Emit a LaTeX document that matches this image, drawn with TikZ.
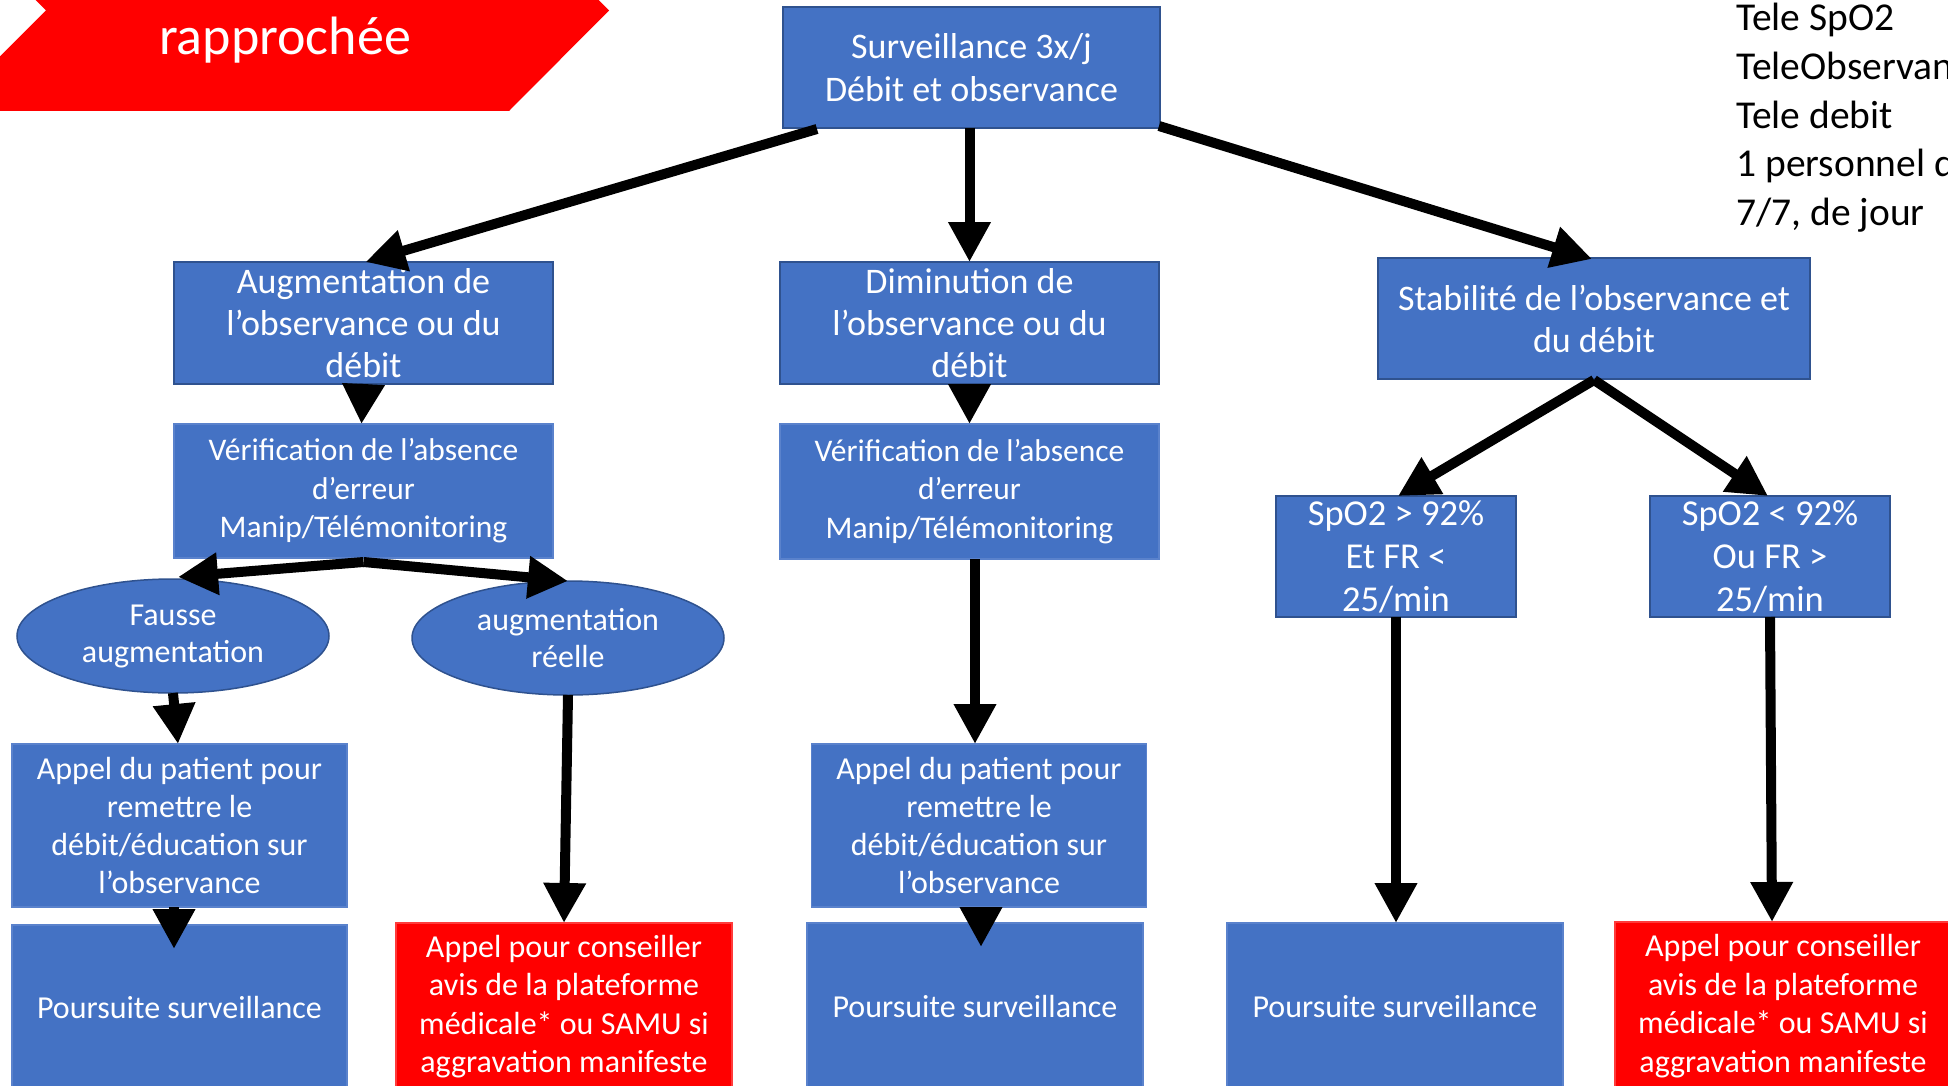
\documentclass[tikz,border=0pt]{standalone}
\usepackage{fontspec}
\setmainfont{Carlito}
\usetikzlibrary{arrows.meta,calc,shapes.geometric}
\definecolor{obl}{HTML}{4472C4}
\definecolor{obd}{HTML}{2F528F}
\definecolor{obm}{HTML}{5A82CC}
\definecolor{obr}{HTML}{FF0000}
\definecolor{obrb}{HTML}{FF3B3B}
\tikzset{
  bbox/.style={rectangle, fill=obl, draw=obd, line width=0.75pt, text=white, align=center, inner sep=0pt, outer sep=0pt},
  lbox/.style={rectangle, fill=obl, draw=obm, line width=0.6pt, text=white, align=center, inner sep=0pt, outer sep=0pt},
  rbox/.style={rectangle, fill=obr, draw=obrb, line width=0.6pt, text=white, align=center, inner sep=0pt, outer sep=0pt},
  ebox/.style={ellipse, fill=obl, draw=obd, line width=0.75pt, text=white, align=center, inner sep=0pt, outer sep=0pt},
  fbig/.style={font=\fontsize{18pt}{21pt}\selectfont},
  fmid/.style={font=\fontsize{15.75pt}{19.25pt}\selectfont},
  fsml/.style={font=\fontsize{16pt}{19pt}\selectfont},
  arr/.style={line width=5pt, black, -{Triangle[length=20pt,width=20pt]}},
  side/.style={anchor=base west, inner sep=0pt, font=\fontsize{19.75pt}{24pt}\selectfont, text=black}
}
\begin{document}
\begin{tikzpicture}[x=0.5pt,y=-0.5pt]
\useasboundingbox (0,0) rectangle (1948,1086);
\clip (0,0) rectangle (1948,1086);
\fill[white] (0,0) rectangle (1948,1086);
% banner
\fill[obr] (509,-90) -- (609,10.5) -- (509,111) -- (-54.5,111) -- (46,10.5) -- (-54.5,-90) -- cycle;
\node[anchor=base, inner sep=0pt, text=white, font=\fontsize{27pt}{32pt}\selectfont] (ban) at (285,55) {rapprochée};
% side text
\node[side] (r1) at (1736,31) {Tele SpO2};
\node[side] (r2) at (1736,79.5) {TeleObservance};
\node[side] (r3) at (1736,128) {Tele debit};
\node[side] (r4) at (1736,176.5) {1 personnel dédié};
\node[side] (r5) at (1736,225) {7/7, de jour};
% boxes
\node[bbox, fbig, font=\fontsize{18pt}{21.5pt}\selectfont, minimum width=188.5pt, minimum height=60.5pt] (top) at (971.5,67.5) {Surveillance 3x/j\\Débit et observance};
\node[bbox, fbig, minimum width=189.5pt, minimum height=61pt] (aug) at (363.5,323) {Augmentation de\\l’observance ou du\\débit};
\node[bbox, fbig, minimum width=189.5pt, minimum height=61pt] (dim) at (969.5,323) {Diminution de\\l’observance ou du\\débit};
\node[bbox, fbig, minimum width=216pt, minimum height=60.5pt] (stab) at (1594,318.5) {Stabilité de l’observance et\\du débit};
\node[lbox, fmid, minimum width=189.5pt, minimum height=67pt] (verL) at (363.5,491) {Vérification de l’absence\\d’erreur\\Manip/Télémonitoring};
\node[lbox, fmid, minimum width=189.5pt, minimum height=67.5pt] (verM) at (969.5,491.5) {Vérification de l’absence\\d’erreur\\Manip/Télémonitoring};
\node[ebox, font=\fontsize{16pt}{18.5pt}\selectfont, minimum width=156pt, minimum height=57pt] (ellF) at (173,636) {Fausse\\augmentation};
\node[ebox, font=\fontsize{16pt}{18.5pt}\selectfont, minimum width=156pt, minimum height=57pt] (ellR) at (568,638) {augmentation\\réelle};
\node[bbox, font=\fontsize{18.25pt}{21.5pt}\selectfont, minimum width=120pt, minimum height=60.5pt] (spoA) at (1396,556.5) {SpO2 > 92\%\\Et FR <\\25/min};
\node[bbox, font=\fontsize{18.25pt}{21.5pt}\selectfont, minimum width=120pt, minimum height=60.5pt] (spoB) at (1770,556.5) {SpO2 < 92\%\\Ou FR >\\25/min};
\node[lbox, fsml, minimum width=167.5pt, minimum height=81.5pt] (appL) at (179.5,825.5) {Appel du patient pour\\remettre le\\débit/éducation sur\\l’observance};
\node[lbox, fsml, minimum width=167.5pt, minimum height=81.5pt] (appM) at (979,825.5) {Appel du patient pour\\remettre le\\débit/éducation sur\\l’observance};
\node[lbox, fsml, minimum width=167.5pt, minimum height=82.5pt] (poursL) at (179.5,1007.5) {Poursuite surveillance};
\node[lbox, fsml, minimum width=168pt, minimum height=83.5pt] (poursM) at (975,1006.5) {Poursuite surveillance};
\node[lbox, fsml, minimum width=168pt, minimum height=83.5pt] (poursR) at (1395,1006.5) {Poursuite surveillance};
\node[rbox, font=\fontsize{16pt}{19.25pt}\selectfont, minimum width=168pt, minimum height=83.5pt] (redL) at (564,1006.5) {Appel pour conseiller\\avis de la plateforme\\médicale* ou SAMU si\\aggravation manifeste};
\node[rbox, font=\fontsize{16pt}{19.25pt}\selectfont, minimum width=168pt, minimum height=84pt] (redR) at (1783,1006) {Appel pour conseiller\\avis de la plateforme\\médicale* ou SAMU si\\aggravation manifeste};
% connectors
\draw[arr] ($(top.south west)+(34,1)$) -- ($(aug.north)+(2,0)$);
\draw[arr] (dim.north |- top.south) -- (dim.north);
\draw[arr] ($(top.south east)+(-1,-2)$) -- ($(stab.north)+(-2,1)$);
\draw[arr] (aug.south) -- ($(verL.north)+(-2,0)$);
\draw[arr] (dim.south) -- (verM.north);
\draw[arr] ($(verL.south)+(0,4)$) -- ($(ellF.north)+(5,-2)$);
\draw[arr] ($(verL.south)+(0,4)$) -- (ellR.north);
\draw[arr] (ellF.south) -- ($(appL.north)+(-1.5,0)$);
\draw[arr] (ellR.south) -- (redL.north);
\draw[arr] ($(verM.south)+(5.5,0)$) -- ($(appM.north)+(-4,0)$);
\draw[arr] ($(appL.south)+(-5.5,0)$) -- ($(poursL.north)+(-5.5,24)$);
\draw[arr] ($(appM.south)+(2,0)$) -- ($(poursM.north)+(6,24)$);
\draw[arr] ($(stab.south)+(0,1)$) -- ($(spoA.north)+(2,0)$);
\draw[arr] ($(stab.south)+(0,1)$) -- ($(spoB.north)+(-2,0)$);
\draw[arr] (spoA.south) -- (poursR.north -| spoA.south);
\draw[arr] (spoB.south) -- ($(redR.north)+(-11,0)$);
\end{tikzpicture}
\end{document}
